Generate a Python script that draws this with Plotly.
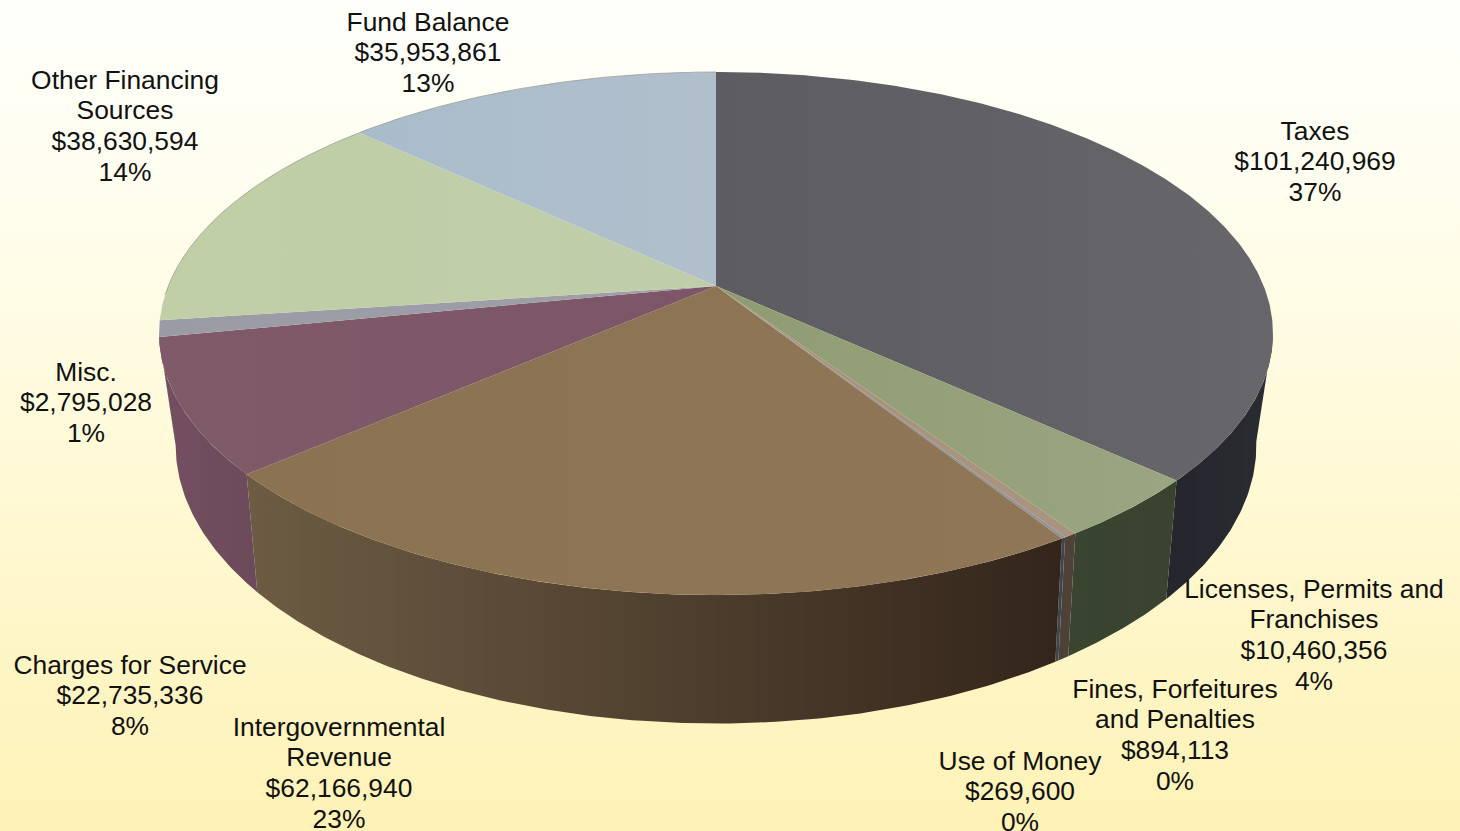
import math
import plotly.graph_objects as go

# Revenue sources, clockwise from twelve o'clock
categories = [
    ["Taxes"],
    ["Licenses, Permits and", "Franchises"],
    ["Fines, Forfeitures", "and Penalties"],
    ["Use of Money"],
    ["Intergovernmental", "Revenue"],
    ["Charges for Service"],
    ["Misc."],
    ["Other Financing", "Sources"],
    ["Fund Balance"],
]
revenue = [101240969, 10460356, 894113, 269600, 62166940, 22735336, 2795028, 38630594, 35953861]

# Face shading per slice: (left colour, right colour)
top_colors = [
    ("#5d5c60", "#66666b"), ("#8f9c72", "#9aa582"), ("#a8917e", "#a8957f"),
    ("#8f929b", "#8f929b"), ("#8a7252", "#8e7657"), ("#7f5a68", "#7c5668"),
    ("#9b9ba6", "#a09fa8"), ("#c1cfa6", "#bfcdab"), ("#a9bccb", "#b1bfcc"),
]
wall_colors = [
    ("#25262d", "#2b2b32"), ("#394530", "#3a4330"), ("#4e4238", "#4e4238"),
    ("#3f4550", "#3f4550"), ("#6d5c43", "#34251b"), ("#744f62", "#6b4a5a"),
    ("#744f62", "#744f62"), ("#744f62", "#744f62"), ("#744f62", "#744f62"),
]

# Perspective of the two disc planes: half width, half height, foreshortening, centre y
CX = 716
TOP = dict(a=547.7, b=252.9, p=0.1817, y0=286.0)
BOTTOM = dict(a=530.0, b=268.0, p=0.195, y0=390.6)
WALL_FROM, WALL_TO = 100.5, 259.0


def project(theta_deg, plane):
    t = math.radians(theta_deg)
    d = 1 + plane["p"] * math.cos(t)
    return (CX + plane["a"] * math.sin(t) / d, plane["y0"] - plane["b"] * math.cos(t) / d)


def arc(t0, t1, plane):
    n = max(2, int(abs(t1 - t0) * 2) + 1)
    pts = [project(t0 + (t1 - t0) * i / (n - 1), plane) for i in range(n)]
    return [p[0] for p in pts], [p[1] for p in pts]


def ramp(pair):
    return dict(type="horizontal", colorscale=[[0, pair[0]], [1, pair[1]]])


fig = go.Figure()

# Page background: the y axis runs downward, so stop 0 is the bottom of the page
fig.add_trace(go.Scatter(
    x=[0, 1460, 1460, 0, 0], y=[0, 0, 831, 831, 0], mode="lines", line=dict(width=0),
    fill="toself", hoverinfo="skip",
    fillgradient=dict(type="vertical", colorscale=[[0, "#fef2b6"], [0.5, "#fffadb"], [0.92, "#fffff8"], [1, "#fffffa"]]),
))

total = sum(revenue)
edges = [0.0]
for v in revenue:
    edges.append(edges[-1] + 360.0 * v / total)

# Side walls of the front half
for i in range(len(revenue)):
    t0, t1 = max(edges[i], WALL_FROM), min(edges[i + 1], WALL_TO)
    if t1 <= t0:
        continue
    xa, ya = arc(t0, t1, TOP)
    xb, yb = arc(t1, t0, BOTTOM)
    fig.add_trace(go.Scatter(
        x=xa + xb + xa[:1], y=ya + yb + ya[:1], mode="lines", line=dict(width=0),
        fill="toself", fillgradient=ramp(wall_colors[i]), hoverinfo="skip",
    ))

# Top faces
for i in range(len(revenue)):
    xa, ya = arc(edges[i], edges[i + 1], TOP)
    fig.add_trace(go.Scatter(
        x=[CX] + xa + [CX], y=[TOP["y0"]] + ya + [TOP["y0"]], mode="lines", line=dict(width=0),
        fill="toself", fillgradient=ramp(top_colors[i]), hoverinfo="skip",
    ))

# Thin rim along the far edge of the disc
rx, ry = arc(268, 360, TOP)
fig.add_trace(go.Scatter(
    x=rx, y=ry, mode="lines", line=dict(width=1, color="rgba(150,150,145,0.7)"), hoverinfo="skip",
))

# Data labels: name lines, amount, share
label_x = [1315, 1314, 1175, 1020, 339, 130, 86, 125, 428]
label_y = [133, 591, 691, 763, 729, 667, 374, 82, 24]
LINE_STEP = 30.8
tx, ty, tt = [], [], []
for name, v, x, y in zip(categories, revenue, label_x, label_y):
    lines = name + [f"${v:,}", f"{round(100 * v / total)}%"]
    for k, s in enumerate(lines):
        tx.append(x)
        ty.append(y + k * LINE_STEP)
        tt.append(s)
fig.add_trace(go.Scatter(
    x=tx, y=ty, text=tt, mode="text", textposition="middle center", hoverinfo="skip",
    textfont=dict(family="Liberation Sans, Arial", size=26.4, color="#111111"),
))

fig.update_layout(
    width=1460, height=831, margin=dict(l=0, r=0, t=0, b=0), showlegend=False,
    paper_bgcolor="#fffbe0", plot_bgcolor="rgba(0,0,0,0)",
    xaxis=dict(range=[0, 1460], visible=False, fixedrange=True),
    yaxis=dict(range=[831, 0], visible=False, fixedrange=True),
)
fig.write_html("out.html", config=dict(displayModeBar=False))
